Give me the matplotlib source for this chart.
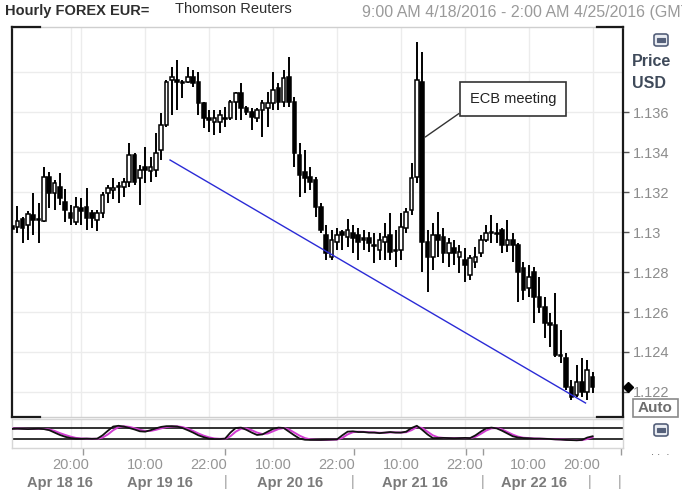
import matplotlib
matplotlib.use('Agg')
import matplotlib.pyplot as plt
from matplotlib.patches import Rectangle, FancyBboxPatch
from matplotlib.lines import Line2D
import matplotlib.transforms as mtrans
import numpy as np
import pandas as pd

# ---------------- data (hourly EUR/USD candles) ----------------
start_time = '2016-04-18 09:00'
opens = [1.1303, 1.13025, 1.13065, 1.13035, 1.13085, 1.13065, 1.13055, 1.13275, 1.13195, 1.13225,
         1.1315, 1.13095, 1.1305, 1.1312, 1.13125, 1.13095, 1.1306, 1.13095, 1.13195, 1.1321,
         1.13225, 1.13225, 1.1325, 1.13385, 1.1327, 1.13325, 1.13305, 1.1331, 1.1341, 1.13535,
         1.1376, 1.1376, 1.1375, 1.1375, 1.13775, 1.1375, 1.13645, 1.1357, 1.1355, 1.1355,
         1.1357, 1.1357, 1.1365, 1.13695, 1.1362, 1.136, 1.1357, 1.1361, 1.1362, 1.13645,
         1.1372, 1.1365, 1.13775, 1.1365, 1.13385, 1.1330, 1.13275, 1.1326, 1.13125, 1.12985,
         1.12875, 1.1295, 1.1300, 1.12975, 1.12995, 1.12985, 1.1297, 1.1297, 1.12935, 1.1291,
         1.1295, 1.12985, 1.1291, 1.1291, 1.1302, 1.1311, 1.13275, 1.1375, 1.1295, 1.12875,
         1.12985, 1.12975, 1.12895, 1.1292, 1.12875, 1.1286, 1.12785, 1.1285, 1.12895, 1.1296,
         1.12995, 1.12995, 1.1301, 1.12935, 1.1296, 1.12935, 1.1282, 1.1272, 1.1280, 1.12675,
         1.12625, 1.12545, 1.12535, 1.12385, 1.1237, 1.12225, 1.12185, 1.1225, 1.1220, 1.12275]
closes = [1.13015, 1.13055, 1.1302, 1.1309, 1.1306, 1.1306, 1.13275, 1.13195, 1.13245, 1.1317,
          1.1311, 1.1307, 1.13125, 1.13105, 1.1307, 1.1307, 1.13095, 1.13185, 1.1322, 1.1322,
          1.1323, 1.1325, 1.13385, 1.1325, 1.1331, 1.1331, 1.13325, 1.13395, 1.13535, 1.1375,
          1.13775, 1.1375, 1.13745, 1.13775, 1.13745, 1.13645, 1.1357, 1.1356, 1.1357, 1.13585,
          1.13565, 1.1365, 1.13695, 1.1362, 1.1360, 1.13575, 1.1361, 1.13645, 1.13645, 1.1371,
          1.1365, 1.1377, 1.1365, 1.13395, 1.13285, 1.1327, 1.1325, 1.13125, 1.1301, 1.12895,
          1.1296, 1.12985, 1.12985, 1.1301, 1.1297, 1.1295, 1.1296, 1.12945, 1.1293, 1.1296,
          1.12975, 1.1290, 1.12905, 1.13025, 1.1310, 1.1327, 1.1376, 1.1295, 1.12875, 1.12985,
          1.1296, 1.12895, 1.12945, 1.12895, 1.1290, 1.12835, 1.1287, 1.12875, 1.1296, 1.12995,
          1.1300, 1.1299, 1.12935, 1.1296, 1.12935, 1.1280, 1.1271, 1.12775, 1.12675, 1.12625,
          1.12545, 1.12535, 1.12385, 1.1238, 1.12225, 1.12175, 1.1225, 1.1220, 1.1231, 1.12225]
highs = [1.13085, 1.1313, 1.13075, 1.13105, 1.13195, 1.13145, 1.13325, 1.1330, 1.1326, 1.13295,
         1.13215, 1.13135, 1.13175, 1.1317, 1.1322, 1.1311, 1.1311, 1.1320, 1.13235, 1.1327,
         1.1325, 1.1327, 1.13445, 1.13395, 1.13335, 1.13425, 1.13375, 1.13495, 1.13595, 1.1376,
         1.13825, 1.1386, 1.1376, 1.13825, 1.1381, 1.1380, 1.1365, 1.1361, 1.1361, 1.1361,
         1.13625, 1.1366, 1.1370, 1.13745, 1.1363, 1.1362, 1.1362, 1.1366, 1.1370, 1.1380,
         1.13745, 1.1381, 1.13875, 1.13675, 1.13445, 1.1341, 1.13325, 1.13275, 1.13145, 1.13035,
         1.1301, 1.1302, 1.1301, 1.13065, 1.13035, 1.1302, 1.1301, 1.1300, 1.12995, 1.12995,
         1.13045, 1.13095, 1.1301, 1.13095, 1.1312, 1.13345, 1.1395, 1.1390, 1.1301, 1.13045,
         1.1310, 1.1302, 1.1297, 1.1296, 1.12935, 1.1292, 1.12885, 1.12925, 1.12985, 1.13035,
         1.13085, 1.13045, 1.1302, 1.1306, 1.12995, 1.12945, 1.1285, 1.12835, 1.12825, 1.12775,
         1.12675, 1.12595, 1.12695, 1.1251, 1.12395, 1.1226, 1.12335, 1.1237, 1.1236, 1.1230]
lows = [1.12835, 1.12995, 1.12945, 1.1296, 1.12985, 1.12945, 1.1305, 1.1312, 1.1311, 1.13135,
        1.1305, 1.13035, 1.13035, 1.13035, 1.1301, 1.1302, 1.13005, 1.1307, 1.13145, 1.13165,
        1.13145, 1.13175, 1.13225, 1.13235, 1.13135, 1.13245, 1.1325, 1.13275, 1.1336, 1.13525,
        1.13585, 1.1361, 1.1367, 1.13745, 1.13725, 1.13585, 1.1352, 1.1350, 1.13485, 1.13495,
        1.13525, 1.1356, 1.1356, 1.1356, 1.13585, 1.1351, 1.1355, 1.13475, 1.13525, 1.1361,
        1.1361, 1.13625, 1.13625, 1.13325, 1.13175, 1.13195, 1.1321, 1.13075, 1.12995, 1.1286,
        1.1286, 1.1291, 1.1291, 1.12925, 1.12895, 1.1286, 1.1291, 1.1290, 1.12845, 1.1286,
        1.1286, 1.1286, 1.12825, 1.1286, 1.12995, 1.13085, 1.13245, 1.1280, 1.1270, 1.1281,
        1.12875, 1.12845, 1.12825, 1.12835, 1.12795, 1.1275, 1.1276, 1.1282, 1.12875, 1.1295,
        1.12945, 1.12945, 1.12895, 1.1290, 1.1285, 1.1265, 1.1266, 1.12675, 1.12545, 1.12595,
        1.1247, 1.12425, 1.12375, 1.12345, 1.1221, 1.1216, 1.12175, 1.12175, 1.1216, 1.12195]

# slow stochastic shown in the lower pane (black = %K, magenta = %D)
stoch_k = [75, 76, 75, 74, 75, 76, 74, 68, 55, 42, 32, 25, 22, 21, 22, 21, 22, 40, 65, 88,
           92, 88, 80, 72, 62, 60, 68, 78, 86, 90, 90, 88, 80, 68, 55, 40, 30, 22, 20, 20,
           22, 55, 80, 82, 70, 55, 42, 45, 60, 75, 82, 80, 60, 40, 22, 16, 15, 15, 15, 16,
           17, 18, 40, 60, 62, 58, 58, 55, 55, 52, 55, 58, 55, 55, 60, 80, 92, 70, 45, 25,
           25, 26, 25, 24, 25, 26, 25, 40, 60, 78, 82, 78, 65, 50, 35, 28, 25, 24, 22, 22,
           21, 20, 18, 17, 15, 14, 13, 15, 28, 35]
stoch_d = [77, 77, 76, 75, 75, 75, 75, 72, 64, 52, 42, 33, 26, 23, 22, 21, 21, 28, 45, 68,
           85, 89, 86, 79, 70, 64, 64, 70, 78, 85, 88, 89, 85, 76, 64, 50, 38, 29, 23, 21,
           21, 35, 60, 76, 77, 68, 55, 47, 50, 62, 74, 80, 72, 55, 38, 25, 18, 16, 15, 15,
           16, 17, 26, 45, 57, 60, 59, 57, 56, 54, 54, 56, 56, 55, 57, 68, 85, 80, 60, 40,
           29, 26, 25, 25, 25, 25, 25, 32, 48, 66, 78, 80, 72, 58, 44, 33, 27, 25, 23, 22,
           21, 20, 19, 18, 16, 15, 14, 14, 20, 30]

price_ticks = [1.122, 1.124, 1.126, 1.128, 1.13, 1.132, 1.134, 1.136]
price_tick_labels = ['1.122', '1.124', '1.126', '1.128', '1.13', '1.132', '1.134', '1.136']
grid_prices = [1.122, 1.124, 1.126, 1.128, 1.13, 1.132, 1.134, 1.136, 1.138]

grid_times = ['2016-04-18 20:00', '2016-04-18 22:00', '2016-04-19 10:00', '2016-04-19 22:00',
              '2016-04-20 10:00', '2016-04-20 22:00', '2016-04-21 10:00', '2016-04-21 22:00',
              '2016-04-22 10:00', '2016-04-22 22:00']
time_label_times = ['2016-04-18 20:00', '2016-04-19 10:00', '2016-04-19 22:00', '2016-04-20 10:00',
                    '2016-04-20 22:00', '2016-04-21 10:00', '2016-04-21 22:00', '2016-04-22 10:00',
                    '2016-04-22 20:00']
time_labels = ['20:00', '10:00', '22:00', '10:00', '22:00', '10:00', '22:00', '10:00', '20:00']
small_tick_times = ['2016-04-18 20:00', '2016-04-18 22:20', '2016-04-19 22:00', '2016-04-20 01:00',
                    '2016-04-20 22:00', '2016-04-21 01:10', '2016-04-21 22:10', '2016-04-22 01:20',
                    '2016-04-23 03:20']
day_label_times = ['2016-04-18 18:00', '2016-04-19 12:48', '2016-04-20 13:10', '2016-04-21 12:35',
                   '2016-04-22 11:05']
day_labels = ['Apr 18 16', 'Apr 19 16', 'Apr 20 16', 'Apr 21 16', 'Apr 22 16']
day_sep_times = ['2016-04-20 01:00', '2016-04-21 01:00', '2016-04-22 01:15', '2016-04-22 21:25',
                 '2016-04-23 03:05']

trend_times = ['2016-04-19 14:40', '2016-04-22 20:40']
trend_prices = [1.1336, 1.12145]

ecb_time = '2016-04-21 14:35'
ecb_price = 1.13475

# ---------------- helpers ----------------
base = pd.Timestamp('2016-04-18 00:00')
def hrs(t):
    return (pd.to_datetime(t) - base) / pd.Timedelta(hours=1)

times = pd.date_range(start_time, periods=len(opens), freq='h')
xh = np.asarray(hrs(times), dtype=float)
o = np.array(opens); c = np.array(closes); h = np.array(highs); l = np.array(lows)

W, H = 682, 494
fig = plt.figure(figsize=(W / 100, H / 100), dpi=100)
fig.patch.set_facecolor('white')
def fx(px): return px / W
def fy(py): return 1 - py / H

FONT = ['Liberation Sans', 'DejaVu Sans']
plt.rcParams['font.family'] = FONT
tick_gray = '#8c8c8c'

# ---------------- main price pane ----------------
ax = fig.add_axes([fx(12), fy(417), fx(623) - fx(12), fy(27) - fy(417)])
x0, x1 = 9.0, 123.7
ax.set_xlim(x0, x1)
ax.set_ylim(1.12075, 1.14025)
ax.set_facecolor('white')

for gp in grid_prices:
    ax.axhline(gp, color='#ececec', lw=1.0, zorder=0)
for gt in grid_times:
    ax.axvline(hrs(gt), color='#ececec', lw=1.0, zorder=0)

# wicks
ax.vlines(xh, l, h, color='black', lw=1.4, zorder=2)
# bodies
up = c >= o
body_w = 0.68
for xi, oi, ci, u in zip(xh, o, c, up):
    bot = min(oi, ci)
    ht = max(abs(ci - oi), 0.00003)
    ax.add_patch(Rectangle((xi - body_w / 2, bot), body_w, ht,
                           facecolor='white' if u else 'black', edgecolor='black',
                           lw=1.1, zorder=3))

# trend line
ax.plot([hrs(t) for t in trend_times], trend_prices, color='#2b2bd6', lw=1.0, zorder=4)

# spines
for s in ['top', 'bottom']:
    ax.spines[s].set_color('#cfcfcf'); ax.spines[s].set_linewidth(1.0)
for s in ['left', 'right']:
    ax.spines[s].set_color('#1a1a1a'); ax.spines[s].set_linewidth(1.6)
corner = dict(color='#1a1a1a', lw=1.6, transform=ax.transAxes, clip_on=False, zorder=6)
cw_l = 28 / 611; cw_r = 26 / 611
ax.add_line(Line2D([0, cw_l], [1, 1], **corner))
ax.add_line(Line2D([1 - cw_r, 1], [1, 1], **corner))
ax.add_line(Line2D([0, cw_l], [0, 0], **corner))
ax.add_line(Line2D([1 - cw_r, 1], [0, 0], **corner))

ax.set_xticks([])
ax.yaxis.tick_right()
ax.set_yticks(price_ticks)
ax.set_yticklabels(price_tick_labels)
ax.tick_params(axis='y', direction='out', length=4, width=1, color='#555555',
               labelcolor=tick_gray, labelsize=10.5, pad=3)

# last price marker (just right of the price axis)
mk_trans = mtrans.blended_transform_factory(fig.transFigure, ax.transData)
ax.plot([fx(628)], [closes[-1]], marker='D', color='black', ms=5.5, clip_on=False, zorder=7,
        transform=mk_trans)

# ECB annotation
ax.annotate('ECB meeting', xy=(hrs(ecb_time), ecb_price),
            xytext=(fx(513), fy(99)), textcoords='figure fraction',
            ha='center', va='center', fontsize=10.5, color='#222222',
            bbox=dict(boxstyle='square,pad=0.7', fc='white', ec='#333333', lw=1.2),
            arrowprops=dict(arrowstyle='-', color='#333333', lw=1.0,
                            shrinkA=0, shrinkB=0, relpos=(0, 0.0)), zorder=8)

# ---------------- oscillator pane ----------------
ax2 = fig.add_axes([fx(12), fy(448), fx(623) - fx(12), fy(419) - fy(448)])
ax2.set_xlim(x0, x1)
ax2.set_ylim(-29, 129)
for s in ax2.spines.values():
    s.set_color('#d6d6d6'); s.set_linewidth(1.0)
ax2.axhline(80, color='#222222', lw=1.3)
ax2.axhline(20, color='#222222', lw=1.3)
for gt in grid_times:
    ax2.axvline(hrs(gt), color='#ececec', lw=1.0, zorder=0)
ax2.plot(xh, stoch_d, color='#d23cd2', lw=1.4, zorder=3)
ax2.plot(xh, stoch_k, color='#111111', lw=1.3, zorder=4)
ax2.set_yticks([])
ax2.set_xticks([hrs(t) for t in small_tick_times], minor=True)
ax2.set_xticks([hrs(t) for t in time_label_times])
ax2.set_xticklabels(time_labels)
ax2.tick_params(axis='x', which='major', length=0, labelcolor='#959595', labelsize=10.5, pad=7)
ax2.tick_params(axis='x', which='minor', direction='out', length=5, width=1, color='#9a9a9a')

trans = mtrans.blended_transform_factory(ax2.transData, fig.transFigure)
for t, lab in zip(day_label_times, day_labels):
    fig.text(hrs(t), fy(483), lab, transform=trans, ha='center', va='center',
             fontsize=10.5, fontweight='bold', color='#7a7a7a')
for t in day_sep_times:
    fig.text(hrs(t), fy(482), '|', transform=trans, ha='center', va='center',
             fontsize=10.5, color='#9a9a9a')

# ---------------- header ----------------
fig.text(fx(5), fy(11), 'Hourly FOREX EUR=', fontsize=10.5, fontweight='bold',
         color='#2e2e2e', va='center', ha='left')
fig.text(fx(175), fy(9), 'Thomson Reuters', fontsize=10.5, color='#2e2e2e',
         va='center', ha='left')
fig.text(fx(362), fy(12), '9:00 AM 4/18/2016 - 2:00 AM 4/25/2016 (GMT)', fontsize=11.5,
         color='#9a9a9a', va='center', ha='left')

# ---------------- right side decorations ----------------
fig.text(fx(632), fy(61), 'Price', fontsize=11.5, fontweight='bold', color='#3f4a5a',
         va='center', ha='left')
fig.text(fx(632), fy(83), 'USD', fontsize=11.5, fontweight='bold', color='#3f4a5a',
         va='center', ha='left')

def icon(cx, cy):
    fig.patches.append(FancyBboxPatch((fx(cx - 7), fy(cy + 6)), fx(14), 12 / H,
                                      boxstyle='round,pad=0,rounding_size=0.004',
                                      transform=fig.transFigure, fc='#e9ecf2', ec='#55607a', lw=1.2))
    fig.patches.append(Rectangle((fx(cx - 4), fy(cy + 2)), fx(8), 4 / H,
                                 transform=fig.transFigure, fc='#55607a', ec='#55607a', lw=0.8))
icon(661, 40)
icon(661, 430)

fig.patches.append(Rectangle((fx(633), fy(417)), fx(45), 18 / H, transform=fig.transFigure,
                             fc='white', ec='#8a8a8a', lw=1.2))
fig.text(fx(655.5), fy(408), 'Auto', fontsize=11, fontweight='bold', color='#6e6e6e',
         va='center', ha='center')
fig.text(fx(660), fy(452), '. .  .', fontsize=8, color='#555555', va='center', ha='center')

fig.savefig('out.png', dpi=100, facecolor='white')
